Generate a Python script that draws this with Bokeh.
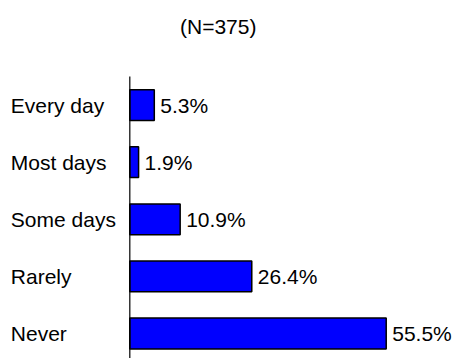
from bokeh.plotting import figure
from bokeh.models import Range1d, ColumnDataSource, Label
from bokeh.core.properties import value
from bokeh.embed import file_html
from bokeh.resources import INLINE

categories = ["Every day", "Most days", "Some days", "Rarely", "Never"]
percent = [5.3, 1.9, 10.9, 26.4, 55.5]
value_labels = ["5.3%", "1.9%", "10.9%", "26.4%", "55.5%"]
title_text = "(N=375)"

FONT = "Liberation Sans"
W, H = 454, 358

idx = list(range(len(categories)))
src = ColumnDataSource(dict(y=idx, v=percent, cat=categories, lab=value_labels))

p = figure(width=W, height=H, output_backend="svg", toolbar_location=None,
           x_range=Range1d(-27.99, 70.28), y_range=Range1d(4.438, -1.832),
           min_border=0, min_border_left=0, min_border_right=0,
           min_border_top=0, min_border_bottom=0, outline_line_color=None)
p.xaxis.visible = False
p.yaxis.visible = False
p.grid.visible = False
p.background_fill_color = "white"
p.border_fill_color = "white"

p.hbar(y="y", left=0, right="v", height=0.54, source=src,
       fill_color="#0000FF", line_color="#000000", line_width=1.5)

# vertical category axis line
p.segment(x0=[0], y0=[-0.5], x1=[0], y1=[len(categories) - 0.5],
          line_color="black", line_width=1.2)

p.text(x=-25.75, y="y", text="cat", source=src, text_font=value(FONT),
       text_font_size="21px", text_color="#000000", text_baseline="middle",
       text_align="left")

p.text(x="v", y="y", text="lab", source=src, x_offset=6, text_font=value(FONT),
       text_font_size="21px", text_color="#000000", text_baseline="middle",
       text_align="left")

p.add_layout(Label(x=217.7, y=332.5, x_units="screen", y_units="screen",
                   text=title_text, text_font=FONT, text_font_size="21px",
                   text_align="center", text_baseline="middle",
                   text_color="#000000"))

open("out.html", "w").write(file_html(p, INLINE))
